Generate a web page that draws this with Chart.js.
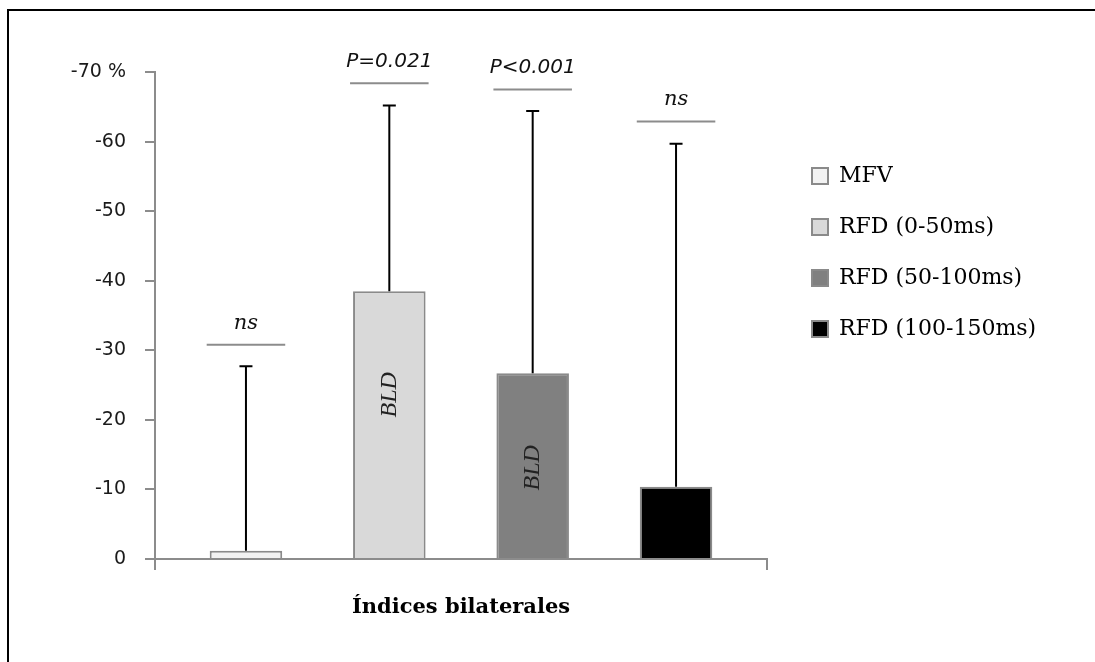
<!DOCTYPE html>
<html>
<head>
<meta charset="utf-8">
<script src="https://cdn.jsdelivr.net/npm/chart.js@4.4.1/dist/chart.umd.min.js"></script>
<style>
  html, body { margin: 0; padding: 0; background: #fff; }
  #frame { position: absolute; left: 7px; top: 9px; width: 1100px; height: 700px; border-top: 2px solid #000; border-left: 2px solid #000; }
  #c { position: absolute; left: 0; top: 0; }
</style>
</head>
<body>
<div id="frame"></div>
<canvas id="c" width="1095" height="662"></canvas>
<script>
const categories = ['Índices bilaterales']
const seriesNames = ['MFV', 'RFD (0-50ms)', 'RFD (50-100ms)', 'RFD (100-150ms)']
const seriesValues = [-1.2, -38.5, -26.7, -10.4]
const seriesSD = [26.5, 26.7, 37.7, 49.3]
const seriesColors = ['#f2f2f2', '#d9d9d9', '#808080', '#000000']
const yTicks = [0, -10, -20, -30, -40, -50, -60, -70]
const sigLabels = ['ns', 'P=0.021', 'P<0.001', 'ns']
const sigLevels = [-30.8, -68.4, -67.5, -62.9]
const barNotes = ['', 'BLD', 'BLD', '']
const barNoteLevels = [null, -23.6, -13.1, null]

// legend sits at a fixed spot, so work out the right padding from the widest label
const legendFont = '22px "DejaVu Serif"'
const mctx = document.createElement('canvas').getContext('2d')
mctx.font = legendFont
const widest = Math.max(...seriesNames.map(n => mctx.measureText(n).width))
const legendPad = 29
const legendBox = 16
const legendWidth = legendPad + legendBox + 11 + widest + 10
const padRight = Math.max(0, 1095 - 783 - legendWidth)

const annotate = {
  id: 'annotate',
  afterDatasetsDraw(chart) {
    const ctx = chart.ctx
    const y = chart.scales.y
    ctx.save()
    seriesValues.forEach((v, i) => {
      const bar = chart.getDatasetMeta(i).data[0]
      const x = bar.x
      // one sided error bar
      const top = y.getPixelForValue(v - seriesSD[i])
      ctx.strokeStyle = '#000'
      ctx.lineWidth = 2
      ctx.beginPath()
      ctx.moveTo(x, bar.y)
      ctx.lineTo(x, top)
      ctx.moveTo(x - 6.5, top)
      ctx.lineTo(x + 6.5, top)
      ctx.stroke()
      // significance line + label
      const half = bar.width / 2 + 3
      const ly = y.getPixelForValue(sigLevels[i])
      ctx.strokeStyle = '#8c8c8c'
      ctx.beginPath()
      ctx.moveTo(x - half, ly)
      ctx.lineTo(x + half, ly)
      ctx.stroke()
      ctx.fillStyle = '#111'
      ctx.textAlign = 'center'
      ctx.textBaseline = 'alphabetic'
      ctx.font = sigLabels[i] === 'ns' ? 'italic 21px "DejaVu Serif"' : 'italic 20px "DejaVu Sans"'
      ctx.fillText(sigLabels[i], x, ly - 16)
      if (barNotes[i]) {
        const ny = y.getPixelForValue(barNoteLevels[i])
        ctx.save()
        ctx.translate(x, ny)
        ctx.rotate(-Math.PI / 2)
        ctx.font = 'italic 24px "Liberation Serif"'
        ctx.textBaseline = 'middle'
        ctx.fillStyle = '#222'
        ctx.fillText(barNotes[i], 0, 0)
        ctx.restore()
      }
    })
    ctx.restore()
  }
}

new Chart(document.getElementById('c'), {
  type: 'bar',
  data: {
    labels: categories,
    datasets: seriesNames.map((name, i) => ({
      label: name,
      data: [seriesValues[i]],
      backgroundColor: seriesColors[i],
      borderColor: '#8a8a8a',
      borderWidth: 2,
      borderSkipped: 'start',
      categoryPercentage: 0.937,
      barPercentage: 0.506
    }))
  },
  options: {
    responsive: false,
    devicePixelRatio: 1,
    animation: false,
    layout: { padding: { left: 0, right: padRight, top: 72, bottom: 0 } },
    plugins: {
      tooltip: { enabled: false },
      legend: {
        position: 'right',
        align: 'start',
        fullSize: false,
        maxWidth: 400,
        title: { display: true, text: ' ', font: { size: 10, lineHeight: 1 }, padding: { top: 54, bottom: 0 } },
        labels: {
          boxWidth: legendBox,
          boxHeight: legendBox,
          padding: legendPad,
          color: '#000',
          font: { family: 'DejaVu Serif', size: 22 }
        }
      }
    },
    scales: {
      x: {
        grid: { offset: true, drawOnChartArea: false, tickLength: 11, color: '#8c8c8c', lineWidth: 2 },
        border: { color: '#8c8c8c', width: 2 },
        ticks: { display: false },
        title: {
          display: true,
          text: categories[0],
          color: '#000',
          font: { family: 'DejaVu Serif', size: 21, weight: 'bold' },
          padding: { top: 0, bottom: 42 }
        },
        afterFit(s) { s.height = 103 }
      },
      y: {
        reverse: true,
        min: -70,
        max: 0,
        afterBuildTicks(s) { s.ticks = yTicks.map(v => ({ value: v })) },
        ticks: {
          callback: v => v === -70 ? '-70 %' : String(v),
          color: '#1a1a1a',
          font: { family: 'DejaVu Sans', size: 19 },
          padding: 19
        },
        grid: { drawOnChartArea: false, tickLength: 10, color: '#8c8c8c', lineWidth: 2 },
        border: { color: '#8c8c8c', width: 2 },
        afterFit(s) { s.width = 155 }
      },
      y2: {
        type: 'linear',
        position: 'right',
        grid: { display: false },
        border: { display: false },
        ticks: { display: false },
        afterFit(s) { s.width = 16 }
      }
    }
  },
  plugins: [annotate]
})
</script>
</body>
</html>
